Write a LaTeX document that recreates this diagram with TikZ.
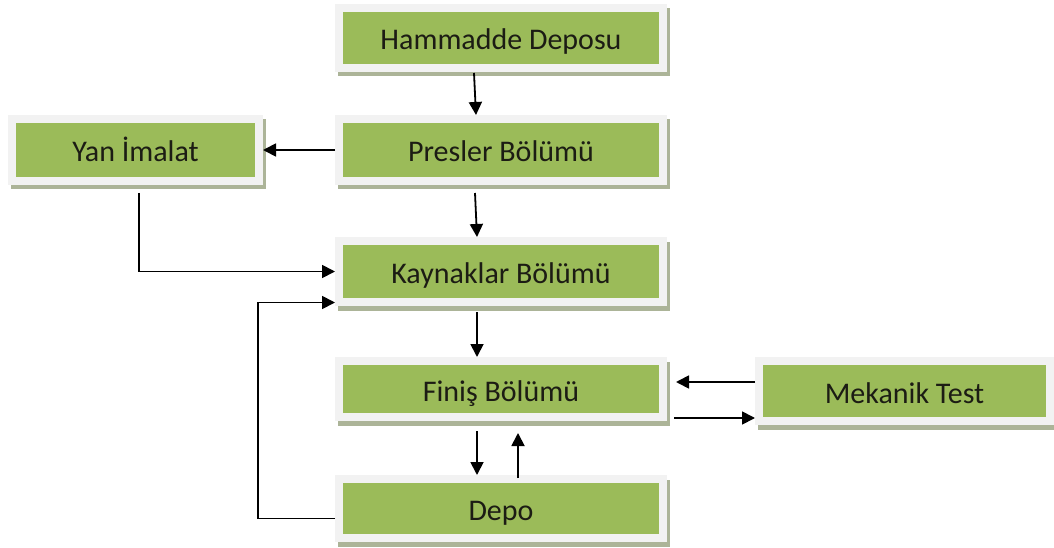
\documentclass[tikz,border=0pt]{standalone}
\usepackage{fontspec}
\setmainfont{Carlito}
\usetikzlibrary{arrows.meta,shadows}
\definecolor{boxgreen}{RGB}{155,187,89}
\definecolor{framegray}{RGB}{242,242,242}
\definecolor{shadowc}{RGB}{172,180,152}
\definecolor{textc}{RGB}{28,28,20}
\tikzset{
  box/.style={rectangle, fill=boxgreen, draw=framegray, line width=8pt,
    minimum width=324pt, minimum height=60pt, inner sep=0pt,
    font=\fontsize{30}{34}\selectfont, text=textc,
    text height=24pt, text depth=0pt,
    drop shadow={shadow xshift=2.5pt, shadow yshift=-4.5pt, fill=shadowc,
      draw=shadowc, line width=8pt, opacity=1}},
  arr/.style={draw=black, line width=1.8pt, -{Triangle[length=13pt,width=13pt]}}
}
\begin{document}
\begin{tikzpicture}[x=1pt,y=-1pt]
\useasboundingbox (0,0) rectangle (1054,548);
\node[box, minimum height=60pt] (ham) at (501,38) {Hammadde Deposu};
\node[box, minimum height=62pt] (pres) at (501,150) {Presler Bölümü};
\node[box, minimum width=247pt, minimum height=62pt] (yan) at (135.5,150) {Yan İmalat};
\node[box, minimum height=61pt] (kay) at (501,271.5) {Kaynaklar Bölümü};
\node[box, minimum height=56pt] (fin) at (501,389) {Finiş Bölümü};
\node[box, minimum height=59pt] (depo) at (501,508.5) {Depo};
\node[box, minimum width=291pt, minimum height=60pt] (mek) at (904.5,391) {Mekanik Test};

\draw[arr] ([xshift=-27pt,yshift=-1pt]ham.south) -- ([xshift=-25pt]pres.north);
\draw[arr] (pres.west) -- (yan.east);
\draw[arr] ([xshift=-26pt,yshift=-8pt]pres.south) -- ([xshift=-24pt]kay.north);
\draw[arr] ([xshift=3.5pt,yshift=-8pt]yan.south) |- (kay.west);
\draw[arr] ([yshift=-10pt]depo.west) -- ++(-77,0) |- ([yshift=-31pt]kay.west);
\draw[arr] ([xshift=-24pt,yshift=-6pt]kay.south) -- ([xshift=-24pt]fin.north);
\draw[arr] ([xshift=-24pt,yshift=-10pt]fin.south) -- ([xshift=-24pt]depo.north);
\draw[arr] ([xshift=17pt,yshift=-3pt]depo.north) -- ([xshift=17pt,yshift=-12pt]fin.south);
\draw[arr] ([yshift=9pt]mek.west) -- ([xshift=9pt,yshift=7pt]fin.east);
\draw[arr] ([xshift=7pt,yshift=-29pt]fin.east) -- ([yshift=-27pt]mek.west);
\end{tikzpicture}
\end{document}
